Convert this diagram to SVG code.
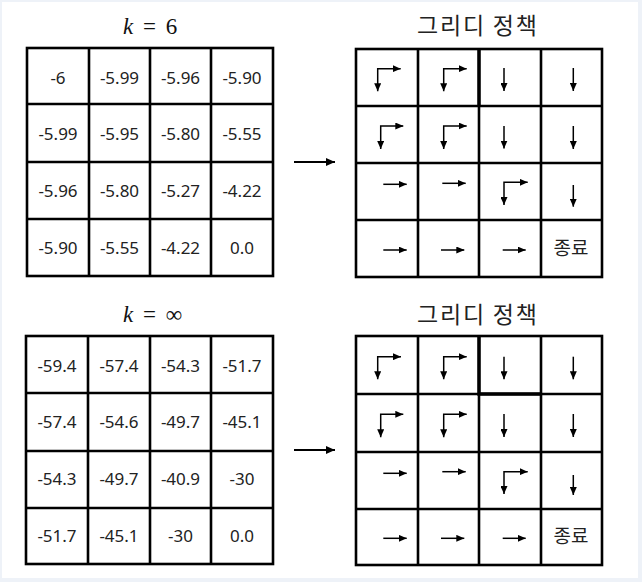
<svg xmlns="http://www.w3.org/2000/svg" width="642" height="582" viewBox="0 0 642 582">
<style>
.grid{fill:none;stroke:#000;stroke-width:2.6}
.num{font-family:"Noto Sans","Open Sans",sans-serif;font-size:17px;fill:#222;text-anchor:middle}
.ttl{font-family:"Noto Sans CJK KR","Noto Sans",sans-serif;font-size:23px;fill:#222}
.math{font-family:"Liberation Serif","DejaVu Serif",serif;font-size:23px;fill:#111;text-anchor:middle}
.end{font-family:"Noto Sans CJK KR","Noto Sans",sans-serif;font-size:19px;fill:#222;text-anchor:middle}
.pa{fill:none;stroke:#000;stroke-width:1.5;marker-end:url(#ah)}
.pb{fill:none;stroke:#000;stroke-width:1.5;marker-start:url(#ah);marker-end:url(#ah)}
.conn{fill:none;stroke:#000;stroke-width:2;marker-end:url(#big)}
</style>
<defs>
<marker id="ah" viewBox="0 0 8 7" markerWidth="8" markerHeight="7" refX="8" refY="3.5" orient="auto-start-reverse" markerUnits="userSpaceOnUse"><path d="M0,0 L8,3.5 L0,7 Z" fill="#000"/></marker>
<marker id="big" viewBox="0 0 9 8" markerWidth="9" markerHeight="8" refX="9" refY="4" orient="auto" markerUnits="userSpaceOnUse"><path d="M0,0 L9,4 L0,8 Z" fill="#000"/></marker>
</defs>
<rect x="0" y="0" width="642" height="582" fill="#eef2f8"/>
<rect x="2" y="2" width="636" height="576" fill="#fff"/>

<!-- Top-left: k = 6 value table -->
<g id="values-k6">
<text class="math" y="34"><tspan x="128" font-style="italic">k</tspan><tspan x="149.5">=</tspan><tspan x="171.5">6</tspan></text>
<rect class="grid" x="27" y="48" width="246" height="228"/>
<path class="grid" d="M89,48V276M150,48V276M211,48V276M27,104H273M27,162H273M27,219H273"/>
<text class="num" y="84"><tspan x="58">-6</tspan><tspan x="119.5">-5.99</tspan><tspan x="180.5">-5.96</tspan><tspan x="242">-5.90</tspan></text>
<text class="num" y="140"><tspan x="58">-5.99</tspan><tspan x="119.5">-5.95</tspan><tspan x="180.5">-5.80</tspan><tspan x="242">-5.55</tspan></text>
<text class="num" y="197"><tspan x="58">-5.96</tspan><tspan x="119.5">-5.80</tspan><tspan x="180.5">-5.27</tspan><tspan x="242">-4.22</tspan></text>
<text class="num" y="254"><tspan x="58">-5.90</tspan><tspan x="119.5">-5.55</tspan><tspan x="180.5">-4.22</tspan><tspan x="242">0.0</tspan></text>
</g>

<!-- Bottom-left: k = inf value table -->
<g id="values-kinf">
<text class="math" y="322"><tspan x="128" font-style="italic">k</tspan><tspan x="149.5">=</tspan><tspan x="174">∞</tspan></text>
<rect class="grid" x="26" y="336" width="247" height="228"/>
<path class="grid" d="M88,336V564M150,336V564M211,336V564M26,393H273M26,451H273M26,508H273"/>
<text class="num" y="372"><tspan x="57">-59.4</tspan><tspan x="119">-57.4</tspan><tspan x="180.5">-54.3</tspan><tspan x="242">-51.7</tspan></text>
<text class="num" y="428"><tspan x="57">-57.4</tspan><tspan x="119">-54.6</tspan><tspan x="180.5">-49.7</tspan><tspan x="242">-45.1</tspan></text>
<text class="num" y="485"><tspan x="57">-54.3</tspan><tspan x="119">-49.7</tspan><tspan x="180.5">-40.9</tspan><tspan x="242">-30</tspan></text>
<text class="num" y="542"><tspan x="57">-51.7</tspan><tspan x="119">-45.1</tspan><tspan x="180.5">-30</tspan><tspan x="242">0.0</tspan></text>
</g>

<!-- Top-right: greedy policy -->
<g id="policy-k6">
<text class="ttl" x="417" y="34" textLength="120" lengthAdjust="spacing">그리디 정책</text>
<rect class="grid" x="356" y="49" width="246" height="228"/>
<path class="grid" d="M418,49V277M479,49V277M541,49V277M356,106H602M356,163H602M356,220H602"/>
<path class="grid" d="M479,49V106" style="stroke-width:3.4"/>
<path class="pb" d="M400.7,68.7H377.7V91.3"/>
<path class="pb" d="M466.7,68.7H443.7V91.3"/>
<path class="pa" d="M504,68V91"/>
<path class="pa" d="M573.3,68V91"/>
<path class="pb" d="M403.3,126H380.7V149"/>
<path class="pb" d="M466.7,126H443.7V149"/>
<path class="pa" d="M504,126V148.5"/>
<path class="pa" d="M573.3,126V149"/>
<path class="pa" d="M383.3,184.3H406.7"/>
<path class="pa" d="M442.3,183.3H465.7"/>
<path class="pb" d="M527.7,182.3H504V205"/>
<path class="pa" d="M573.3,185V206.7"/>
<path class="pa" d="M383.3,250H406.7"/>
<path class="pa" d="M441,250H464.3"/>
<path class="pa" d="M502.7,250H525.7"/>
<text class="end" x="571" y="255">종료</text>
</g>

<!-- Bottom-right: greedy policy -->
<g id="policy-kinf">
<text class="ttl" x="417" y="323" textLength="120" lengthAdjust="spacing">그리디 정책</text>
<rect class="grid" x="356" y="336" width="246" height="229"/>
<path class="grid" d="M418,336V565M479,336V565M541,336V565M356,394H602M356,452H602M356,509H602"/>
<path class="grid" d="M479,336V394H541" style="stroke-width:3.4"/>
<path class="pb" d="M401,356.7H377.7V379.3"/>
<path class="pb" d="M466.7,356.7H443.7V379.3"/>
<path class="pa" d="M504,356.7V379.3"/>
<path class="pa" d="M573.3,356.7V379.3"/>
<path class="pb" d="M403.3,414.3H380.7V437.3"/>
<path class="pb" d="M466.7,414.3H443.7V437.3"/>
<path class="pa" d="M504,414V437"/>
<path class="pa" d="M573.3,414V437"/>
<path class="pa" d="M383.3,473.3H406.7"/>
<path class="pa" d="M442.3,471.7H465.7"/>
<path class="pb" d="M527.7,471.7H504V494"/>
<path class="pa" d="M573.3,475V495"/>
<path class="pa" d="M383.3,538.3H406.7"/>
<path class="pa" d="M441,538.3H464.3"/>
<path class="pa" d="M502.7,538.3H525.7"/>
<text class="end" x="571" y="543">종료</text>
</g>

<g id="connectors">
<path class="conn" d="M294,162H335"/>
<path class="conn" d="M294,450H335"/>
</g>
</svg>
